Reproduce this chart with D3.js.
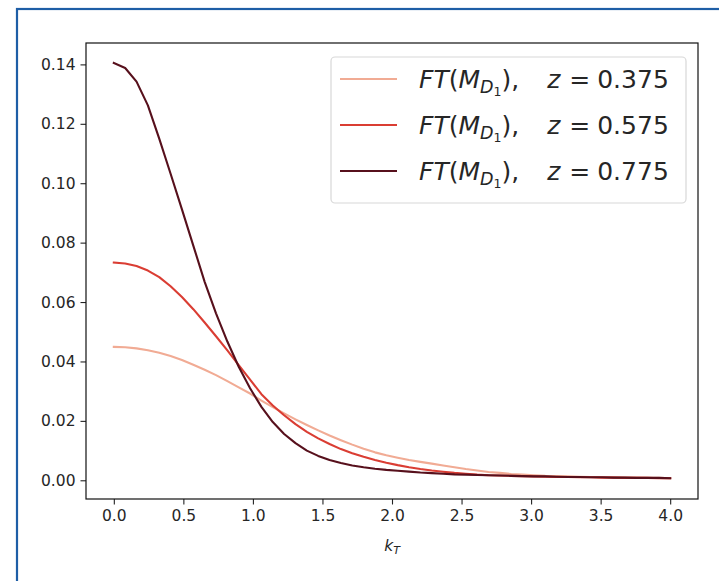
<!DOCTYPE html>
<html>
<head>
<meta charset="utf-8">
<script src="https://cdn.jsdelivr.net/npm/d3@7"></script>
<style>
  html, body { margin: 0; padding: 0; background: #fff; }
  svg { display: block; }
  text { font-family: "DejaVu Sans", sans-serif; fill: #262626; }
</style>
</head>
<body>
<svg id="chart" width="719" height="581"></svg>
<script>
// transverse momentum grid
const kT = [0.0000, 0.0816, 0.1633, 0.2449, 0.3265, 0.4082, 0.4898, 0.5714, 0.6531, 0.7347,
            0.8163, 0.8980, 0.9796, 1.0612, 1.1429, 1.2245, 1.3061, 1.3878, 1.4694, 1.5510,
            1.6327, 1.7143, 1.7959, 1.8776, 1.9592, 2.0408, 2.1224, 2.2041, 2.2857, 2.3673,
            2.4490, 2.5306, 2.6122, 2.6939, 2.7755, 2.8571, 2.9388, 3.0204, 3.1020, 3.1837,
            3.2653, 3.3469, 3.4286, 3.5102, 3.5918, 3.6735, 3.7551, 3.8367, 3.9184, 4.0000];

// FT(M_D1) at z = 0.375
const ftZ375 = [0.0449, 0.0448, 0.0444, 0.0438, 0.0429, 0.0418, 0.0405, 0.0389, 0.0372, 0.0354,
                0.0334, 0.0313, 0.0292, 0.0268, 0.0246, 0.0225, 0.0205, 0.0186, 0.0168, 0.0151,
                0.0135, 0.0120, 0.0106, 0.0094, 0.0084, 0.0076, 0.0068, 0.0062, 0.0056, 0.0050,
                0.0044, 0.0038, 0.0033, 0.0028, 0.0025, 0.0021, 0.0019, 0.0017, 0.0015, 0.0014,
                0.0013, 0.0012, 0.0011, 0.0010, 0.0010, 0.0009, 0.0009, 0.0008, 0.0008, 0.0007];

// FT(M_D1) at z = 0.575
const ftZ575 = [0.0733, 0.0730, 0.0721, 0.0706, 0.0684, 0.0653, 0.0617, 0.0576, 0.0531, 0.0485,
                0.0437, 0.0388, 0.0339, 0.0290, 0.0252, 0.0219, 0.0189, 0.0163, 0.0141, 0.0122,
                0.0105, 0.0091, 0.0079, 0.0068, 0.0059, 0.0051, 0.0044, 0.0038, 0.0033, 0.0029,
                0.0025, 0.0022, 0.0019, 0.0017, 0.0016, 0.0015, 0.0014, 0.0013, 0.0012, 0.0011,
                0.0011, 0.0010, 0.0010, 0.0009, 0.0009, 0.0008, 0.0008, 0.0008, 0.0007, 0.0007];

// FT(M_D1) at z = 0.775
const ftZ775 = [0.1405, 0.1388, 0.1342, 0.1262, 0.1150, 0.1032, 0.0912, 0.0790, 0.0668, 0.0562,
                0.0467, 0.0382, 0.0310, 0.0247, 0.0196, 0.0156, 0.0125, 0.0100, 0.0082, 0.0068,
                0.0058, 0.0050, 0.0044, 0.0039, 0.0035, 0.0032, 0.0029, 0.0026, 0.0024, 0.0022,
                0.0020, 0.0019, 0.0018, 0.0017, 0.0016, 0.0015, 0.0014, 0.0013, 0.0013, 0.0012,
                0.0011, 0.0011, 0.0010, 0.0010, 0.0009, 0.0009, 0.0008, 0.0008, 0.0008, 0.0007];

const zLabels = ["0.375", "0.575", "0.775"];
const xTicks = [0, 0.5, 1, 1.5, 2, 2.5, 3, 3.5, 4];
const yTicks = [0, 0.02, 0.04, 0.06, 0.08, 0.10, 0.12, 0.14];

const seriesList = [ftZ375, ftZ575, ftZ775];
const lineColors = ["#f1ab94", "#da3d33", "#57101c"];

const svg = d3.select("#chart");

// outer frame
svg.append("rect")
  .attr("x", 17).attr("y", 9)
  .attr("width", 900).attr("height", 900)
  .attr("fill", "none")
  .attr("stroke", "#1e5ea6")
  .attr("stroke-width", 2.2);

const plot = { left: 86, right: 698, top: 43, bottom: 499 };

const x = d3.scaleLinear().domain([-0.2, 4.2]).range([plot.left, plot.right]);
const y = d3.scaleLinear().domain([-0.0063, 0.1472]).range([plot.bottom, plot.top]);

const line = d3.line()
  .x((d, i) => x(kT[i]))
  .y(d => y(d));

// curves
const curves = svg.append("g");
seriesList.forEach((s, i) => {
  curves.append("path")
    .datum(s)
    .attr("d", line)
    .attr("fill", "none")
    .attr("stroke", lineColors[i])
    .attr("stroke-width", 2.1)
    .attr("stroke-linejoin", "round")
    .attr("stroke-linecap", "square");
});

// axes
const xAxis = d3.axisBottom(x)
  .tickValues(xTicks)
  .tickFormat(d3.format(".1f"))
  .tickSize(5.5)
  .tickPadding(5);
const yAxis = d3.axisLeft(y)
  .tickValues(yTicks)
  .tickFormat(d3.format(".2f"))
  .tickSize(5.5)
  .tickPadding(5);

const gx = svg.append("g")
  .attr("transform", `translate(0,${plot.bottom})`)
  .call(xAxis);
const gy = svg.append("g")
  .attr("transform", `translate(${plot.left},0)`)
  .call(yAxis);

[gx, gy].forEach(g => {
  g.select(".domain").remove();
  g.selectAll(".tick line").attr("stroke", "#222").attr("stroke-width", 1.1);
  g.selectAll(".tick text")
    .attr("font-family", "DejaVu Sans")
    .attr("font-size", 15.5)
    .attr("fill", "#262626");
});

// axes frame
svg.append("rect")
  .attr("x", plot.left).attr("y", plot.top)
  .attr("width", plot.right - plot.left)
  .attr("height", plot.bottom - plot.top)
  .attr("fill", "none")
  .attr("stroke", "#111")
  .attr("stroke-width", 1.2);

// x-axis label k_T
const xl = svg.append("text")
  .attr("x", (plot.left + plot.right) / 2)
  .attr("y", 551)
  .attr("text-anchor", "middle")
  .attr("font-size", 15.5);
xl.append("tspan").attr("font-style", "italic").text("k");
xl.append("tspan").attr("font-style", "italic").attr("font-size", 11).attr("dy", 3).text("T");

// legend
const legend = svg.append("g");
legend.append("rect")
  .attr("x", 331).attr("y", 57)
  .attr("width", 355).attr("height", 146)
  .attr("rx", 4).attr("ry", 4)
  .attr("fill", "rgba(255,255,255,0.8)")
  .attr("stroke", "#d8d8d8")
  .attr("stroke-width", 1.2);

const rowY = [79, 125, 171];
zLabels.forEach((z, i) => {
  legend.append("line")
    .attr("x1", 340).attr("x2", 397)
    .attr("y1", rowY[i]).attr("y2", rowY[i])
    .attr("stroke", lineColors[i])
    .attr("stroke-width", 2.1);

  const t = legend.append("text")
    .attr("x", 419)
    .attr("y", rowY[i] + 9)
    .attr("font-size", 25)
    .attr("fill", "#111");
  t.append("tspan").attr("font-style", "italic").text("FT");
  t.append("tspan").text("(");
  t.append("tspan").attr("font-style", "italic").text("M");
  t.append("tspan").attr("font-style", "italic").attr("font-size", 17.5).attr("dy", 5).text("D");
  t.append("tspan").attr("font-size", 12.5).attr("dy", 3).text("1");
  t.append("tspan").attr("dy", -8).text("),");
  t.append("tspan").attr("font-style", "italic").attr("dx", 28).text("z");
  t.append("tspan").attr("dx", 9).text("=");
  t.append("tspan").attr("dx", 7).text(z);
});
</script>
</body>
</html>
